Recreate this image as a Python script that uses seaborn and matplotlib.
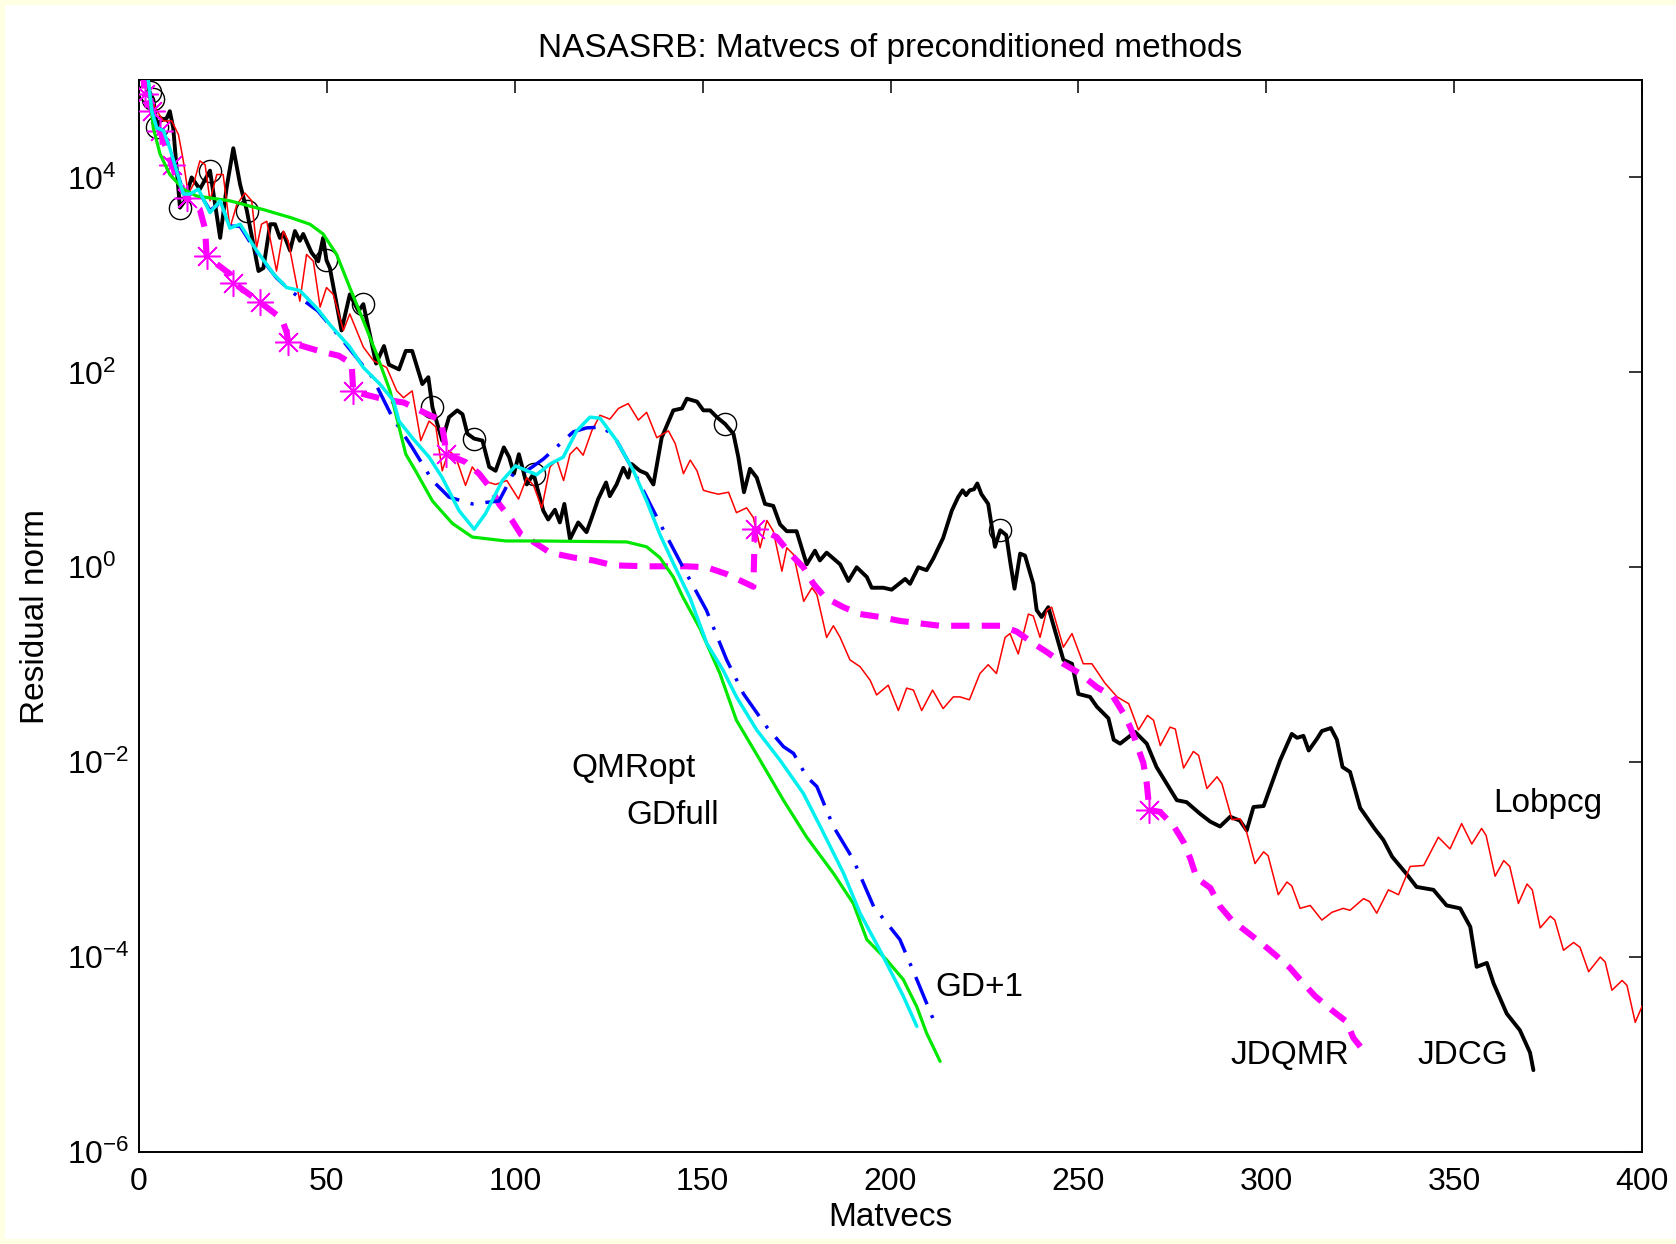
import numpy as np
import pandas as pd
import matplotlib
matplotlib.use("Agg")
import matplotlib.pyplot as plt
import seaborn as sns
from matplotlib.patches import Rectangle

# ---------------------------------------------------------------------------
# Convergence histories: matvec count and log10 of the residual norm
# ---------------------------------------------------------------------------
jdcg_x = [1, 2, 2.8, 3.8, 4.8, 5.6, 7.4, 8.2, 9.1, 10.9, 12.2, 14, 16.2, 18.9, 21.6, 23.3,
          25.1, 26.9, 28.7, 31.8, 33.1, 34.9, 36.2, 37.5, 38.4, 40.2, 41.5, 42.8, 43.7,
          45.9, 47.7, 49, 49.9, 50.8, 53.9, 56.1, 58.4, 59.7, 63.1, 65.2, 66.5, 69.2, 71,
          72.7, 75.4, 77, 78.1, 80.7, 82.5, 84.7, 86.1, 87.4, 89.2, 91.4, 93.2, 94.9, 97.1,
          98.5, 99.8, 101.1, 103.2, 105, 107.6, 108.9, 110.7, 112, 113.2, 114.7, 116.9,
          119.1, 120.5, 122.2, 124.3, 125.3, 127.1, 128.9, 130.2, 131.1, 133.3, 135.1,
          136.9, 139.1, 142.2, 144.5, 145.8, 148.5, 150.2, 152, 153.8, 156, 158.2, 159.5,
          161, 162.6, 164.4, 166.6, 168.8, 170.6, 172.4, 175, 177.7, 179.9, 181.2, 183,
          186.6, 188.8, 191, 193.7, 195, 198.1, 200.3, 203.9, 205.2, 207.4, 209.6, 211.4,
          214, 216.3, 218, 219.2, 220.1, 221.1, 222.2, 223.1, 224.2, 226, 227.8, 229.2,
          230.8, 231.8, 233, 234.5, 235.8, 238, 238.9, 240.2, 242, 246, 248.3, 250, 253.1,
          254.9, 258, 259.4, 261.1, 265.1, 268.2, 270.8, 273.5, 276.2, 278.8, 282.4, 285.1,
          287.7, 290.4, 293, 294.8, 296.6, 299.3, 303.7, 306.8, 308.2, 309.9, 311.3,
          313.5, 314.8, 317.2, 318.8, 320.3, 322.3, 325, 328.8, 331.2, 333.5, 337.4, 340,
          344.5, 348, 351.6, 354.3, 356, 358.7, 360.5, 364, 367.5, 370.2, 371.1]
jdcg_log10 = [5.2, 4.99, 4.88, 4.80, 4.52, 4.58, 4.61, 4.68, 4.51, 3.69, 3.76, 4.00, 3.88,
              4.07, 3.38, 3.89, 4.30, 3.93, 3.66, 3.04, 3.07, 3.52, 3.52, 3.38, 3.43, 3.25,
              3.45, 3.35, 3.42, 3.23, 3.14, 3.38, 3.15, 3.07, 2.43, 2.80, 2.63, 2.70, 2.09,
              2.27, 2.08, 2.03, 2.22, 2.22, 1.88, 1.95, 1.64, 1.30, 1.54, 1.61, 1.57, 1.37,
              1.32, 1.30, 1.03, 0.99, 1.23, 1.13, 0.96, 1.16, 0.85, 0.96, 0.58, 0.49, 0.59,
              0.46, 0.65, 0.29, 0.46, 0.36, 0.51, 0.70, 0.87, 0.73, 0.85, 1.02, 0.92, 1.06,
              0.99, 0.96, 0.85, 1.33, 1.61, 1.63, 1.73, 1.70, 1.61, 1.61, 1.54, 1.47, 1.37,
              1.13, 0.77, 1.01, 0.92, 0.65, 0.63, 0.44, 0.37, 0.37, 0.03, 0.17, 0.07, 0.15,
              0.03, -0.14, 0.00, -0.10, -0.21, -0.21, -0.23, -0.12, -0.17, 0.00, -0.03, 0.09,
              0.30, 0.58, 0.72, 0.79, 0.74, 0.79, 0.80, 0.86, 0.75, 0.65, 0.21, 0.38, 0.33,
              0.07, -0.22, 0.14, 0.12, -0.17, -0.44, -0.51, -0.41, -0.95, -0.99, -1.30, -1.33,
              -1.43, -1.55, -1.77, -1.81, -1.69, -1.81, -2.05, -2.22, -2.39, -2.41, -2.53,
              -2.61, -2.66, -2.56, -2.60, -2.70, -2.46, -2.45, -1.98, -1.71, -1.75, -1.73,
              -1.88, -1.76, -1.68, -1.65, -1.77, -2.05, -2.10, -2.47, -2.68, -2.80, -2.97,
              -3.15, -3.28, -3.31, -3.47, -3.50, -3.69, -4.10, -4.06, -4.27, -4.58, -4.75,
              -4.98, -5.16]
jdcg_restart_x = [2.8, 3.8, 4.8, 10.9, 18.9, 28.7, 49.9, 59.7, 78.1, 89.2, 105, 156, 229.2]

lobpcg_x = [1.5, 2.9, 4.5, 6.5, 8.7, 10.5, 11.8, 13.1, 14.5, 16.2, 17.6, 18.9, 20.7, 22.4,
            24.2, 26, 28.2, 30, 31.3, 32.6, 34, 36.6, 38.4, 39.7, 41.1, 42.8, 44.6, 46.4,
            48.2, 49.9, 51.7, 54.4, 56.1, 59.7, 62.4, 65.9, 68.6, 70.4, 72.7, 75, 77.2, 79,
            80.7, 82.5, 84.3, 86.9, 88.7, 91.4, 94.9, 97.9, 101, 103.2, 105, 107.2, 109.4,
            111.2, 113, 114.7, 116.5, 118.2, 120.5, 122.7, 125.3, 127.6, 130.2, 132.9,
            135.1, 137.8, 140.9, 142.7, 144.9, 146.7, 148.5, 150.2, 152, 154.2, 156.9, 159,
            161.7, 163.5, 165.3, 167.1, 168.8, 171.1, 172.4, 174.2, 176.9, 179.1, 180.4,
            183, 184.8, 186.6, 189.2, 191.9, 194.6, 196.3, 199.4, 202.1, 204.3, 206.1,
            208.3, 211.2, 214, 216.7, 218.5, 221, 223.8, 226, 228.2, 230.5, 231.8, 234,
            236.7, 238, 239.8, 241.6, 242.9, 246, 248.3, 251.3, 253.6, 257.1, 260.3, 263.4,
            266, 268.4, 270, 271.8, 274.4, 275.8, 278, 280.6, 282, 284.2, 286.9, 288.2,
            290.9, 293, 294.8, 297, 299.3, 300.5, 303.2, 305.5, 306.8, 309, 311.7, 314.8,
            317.5, 320.5, 322.3, 325.9, 327.5, 329.4, 332.5, 335.2, 338.3, 341.9, 345.8,
            348.9, 352, 354.7, 357.3, 358.5, 360.9, 363.2, 364.8, 367.1, 369.4, 370.8,
            372.9, 375.6, 376.8, 379.1, 381.8, 383.5, 385.8, 388.9, 390.2, 392, 394.7, 396,
            398.2, 400.4]
lobpcg_log10 = [5.2, 4.85, 4.70, 4.58, 4.58, 4.44, 4.17, 3.83, 3.93, 4.17, 4.13, 3.76, 4.03,
                4.03, 3.48, 3.72, 3.84, 3.76, 3.28, 3.52, 3.55, 3.04, 3.45, 3.35, 3.07, 2.73,
                3.21, 3.14, 2.67, 2.87, 2.80, 2.43, 2.60, 2.26, 2.12, 2.05, 1.81, 1.74, 1.81,
                1.30, 1.50, 1.44, 0.99, 1.20, 1.13, 0.84, 1.03, 0.89, 0.85, 0.89, 0.70, 0.92,
                0.84, 0.61, 1.03, 1.10, 0.89, 1.16, 1.23, 1.15, 1.40, 1.56, 1.52, 1.63, 1.68,
                1.51, 1.59, 1.33, 1.40, 1.27, 0.96, 1.10, 0.99, 0.79, 0.77, 0.75, 0.77, 0.56,
                0.61, 0.51, 0.20, 0.48, 0.37, -0.04, 0.20, 0.13, -0.35, -0.21, -0.28, -0.72,
                -0.60, -0.72, -0.95, -1.02, -1.16, -1.31, -1.21, -1.47, -1.24, -1.26, -1.47,
                -1.26, -1.45, -1.33, -1.33, -1.36, -1.09, -1.00, -1.09, -0.72, -0.68, -0.89,
                -0.48, -0.50, -0.72, -0.44, -0.41, -0.82, -0.68, -0.99, -0.99, -1.19, -1.33,
                -1.40, -1.67, -1.52, -1.57, -1.83, -1.64, -1.66, -2.06, -1.89, -1.93, -2.27,
                -2.15, -2.22, -2.59, -2.58, -2.72, -3.04, -2.92, -2.96, -3.36, -3.23, -3.27,
                -3.50, -3.47, -3.62, -3.54, -3.50, -3.52, -3.40, -3.43, -3.55, -3.31, -3.36,
                -3.07, -3.06, -2.77, -2.89, -2.63, -2.84, -2.68, -2.75, -3.17, -3.01, -3.07,
                -3.45, -3.25, -3.31, -3.70, -3.58, -3.62, -3.93, -3.85, -3.90, -4.15, -4.00,
                -4.05, -4.34, -4.24, -4.29, -4.67, -4.47]

jdqmr_x = [1, 1.6, 3.5, 5.6, 8.7, 12.7, 16.2, 17.6, 18, 24.2, 25.1, 32.2, 38, 39.3, 39.7,
           43.5, 47.9, 53.2, 56.6, 57, 59.4, 65.6, 70.5, 76.3, 80.3, 81.2, 81.8, 86.9, 90.5,
           94, 95.8, 99.3, 101.6, 105.8, 109.4, 115.6, 120.9, 126.2, 135.1, 140.4, 145.7,
           151.1, 156.4, 160.8, 163.5, 163.9, 166.2, 169.7, 173.3, 176.8, 179.5, 182.6,
           187.5, 191.9, 197.2, 202.5, 208.7, 213.2, 219.4, 223.8, 229.2, 233.6, 238, 241.6,
           246, 250.4, 254.9, 259.3, 262, 263.8, 265.1, 267.3, 268.2, 268.9, 271.7, 275.3,
           278, 279.8, 281.5, 285.1, 287.7, 290.8, 294.8, 298.8, 302.8, 306.3, 309.9, 313,
           317.3, 321.3, 323.2, 326.3]
jdqmr_log10 = [5.1, 4.86, 4.68, 4.48, 4.13, 3.79, 3.67, 3.47, 3.19, 3.01, 2.92, 2.72, 2.55,
               2.41, 2.31, 2.27, 2.22, 2.17, 2.09, 1.81, 1.78, 1.72, 1.69, 1.58, 1.51, 1.33,
               1.16, 1.08, 0.96, 0.79, 0.65, 0.48, 0.34, 0.24, 0.15, 0.10, 0.07, 0.02, 0.01,
               0.01, 0.01, 0.00, -0.07, -0.15, -0.20, 0.39, 0.38, 0.31, 0.14, 0.00, -0.17,
               -0.31, -0.41, -0.48, -0.51, -0.55, -0.58, -0.60, -0.60, -0.60, -0.60, -0.66,
               -0.78, -0.87, -0.99, -1.09, -1.23, -1.33, -1.50, -1.64, -1.77, -2.01, -2.22,
               -2.49, -2.51, -2.65, -2.82, -2.99, -3.19, -3.29, -3.48, -3.62, -3.74, -3.86,
               -3.99, -4.11, -4.27, -4.40, -4.54, -4.66, -4.83, -4.98]
jdqmr_restart_x = [1.6, 3.5, 5.6, 8.7, 12.7, 18, 25.1, 32.2, 39.7, 57, 81.8, 163.9, 268.9]

gd1_x = [1.5, 2.5, 3.4, 4.7, 6.5, 8.2, 10, 11.8, 15.8, 18.9, 21.6, 24.2, 26.9, 31.3, 36.6,
         40.2, 47.6, 55, 62.1, 67.4, 72.7, 78.1, 82.5, 88.7, 95.8, 99.6, 103.2, 107.6,
         115.6, 119.1, 123.6, 127.1, 131.6, 136, 139.6, 144.5, 151, 156.4, 160.9, 167.1,
         171.5, 174.2, 177.7, 180.4, 184.8, 190.1, 195.5, 202.5, 207, 211.4]
gd1_log10 = [5.3, 4.99, 4.68, 4.51, 4.48, 4.30, 4.07, 3.85, 3.86, 3.66, 3.74, 3.50, 3.50,
             3.23, 2.97, 2.84, 2.63, 2.29, 1.95, 1.54, 1.23, 0.89, 0.72, 0.65, 0.68, 0.96,
             0.99, 1.11, 1.39, 1.43, 1.44, 1.30, 0.99, 0.65, 0.38, 0.02, -0.44, -0.95, -1.30,
             -1.64, -1.84, -1.91, -2.15, -2.25, -2.66, -3.00, -3.48, -3.82, -4.23, -4.64]

gdfull_x = [1.5, 2.5, 3.4, 4.7, 6.5, 8.2, 10, 11.8, 13.6, 15.8, 18.9, 21.6, 24.2, 26.9,
            31.3, 35.8, 39.3, 42.8, 47.3, 50.8, 56.1, 59.7, 64.1, 67.7, 69.2, 72.7, 77.2,
            80.7, 85.2, 89.2, 92.2, 96.7, 100.2, 105.8, 109.4, 112.9, 116.5, 120, 122.7,
            127.1, 131.6, 135.1, 138.6, 142.2, 146.6, 151.1, 155.5, 159, 164.4, 170.6,
            176.8, 181.3, 187.5, 191.9, 197.2, 203.4, 207]
gdfull_log10 = [5.3, 4.99, 4.68, 4.51, 4.48, 4.30, 4.07, 3.83, 3.83, 3.88, 3.64, 3.76, 3.48,
                3.52, 3.25, 3.01, 2.87, 2.84, 2.66, 2.49, 2.26, 2.05, 1.88, 1.71, 1.50, 1.33,
                1.13, 0.92, 0.58, 0.39, 0.55, 0.89, 1.04, 0.95, 1.06, 1.13, 1.40, 1.54, 1.53,
                1.30, 0.99, 0.68, 0.34, 0.04, -0.31, -0.78, -1.06, -1.33, -1.67, -1.98, -2.32,
                -2.66, -3.14, -3.55, -3.93, -4.40, -4.71]

qmropt_x = [1.5, 2.5, 3.8, 5.6, 8.2, 11.8, 15.3, 24.2, 33.1, 40.2, 45.5, 49, 52.6, 56.1,
            59.7, 63.2, 66.8, 69.2, 71, 73.6, 78.1, 83.4, 88.7, 97.6, 106.5, 129.8, 135.1,
            138.6, 142.2, 144.8, 149.3, 154.6, 159, 165.3, 171.5, 177.7, 184.8, 190.1,
            193.7, 199, 203.4, 207, 209.6, 213.2]
qmropt_log10 = [5.3, 4.99, 4.51, 4.24, 4.03, 3.88, 3.81, 3.76, 3.67, 3.59, 3.52, 3.42, 3.21,
                2.87, 2.53, 2.19, 1.81, 1.44, 1.16, 0.99, 0.68, 0.45, 0.31, 0.27, 0.27, 0.26,
                0.21, 0.10, -0.10, -0.31, -0.63, -1.09, -1.57, -1.98, -2.39, -2.77, -3.14,
                -3.45, -3.82, -4.03, -4.23, -4.51, -4.78, -5.07]

# method names written next to their curves (left edge and baseline position)
curve_names = ["QMRopt", "GDfull", "GD+1", "JDQMR", "JDCG", "Lobpcg"]
name_x = [115, 129.8, 212, 290.4, 340.2, 360.3]
name_log10 = [-2.15, -2.63, -4.40, -5.10, -5.10, -2.51]

yticks = [1e-6, 1e-4, 1e-2, 1e0, 1e2, 1e4]
ytick_labels = [r"$10^{-6}$", r"$10^{-4}$", r"$10^{-2}$", r"$10^{0}$", r"$10^{2}$", r"$10^{4}$"]
xticks = [0, 50, 100, 150, 200, 250, 300, 350, 400]
xtick_labels = ["0", "50", "100", "150", "200", "250", "300", "350", "400"]


def history(x, log10_res):
    return pd.DataFrame({"Matvecs": np.asarray(x, float),
                         "Residual norm": 10.0 ** np.asarray(log10_res, float)})


def marker_indices(x, marks):
    x = np.asarray(x, float)
    return [int(np.argmin(np.abs(x - m))) for m in marks]


sns.set_theme(style="white")
plt.rcParams.update({
    "font.family": ["Liberation Sans", "DejaVu Sans"],
    "mathtext.fontset": "custom",
    "mathtext.rm": "Liberation Sans",
    "mathtext.it": "Liberation Sans:italic",
    "mathtext.bf": "Liberation Sans:bold",
    "text.color": "black",
    "axes.labelcolor": "black",
    "xtick.color": "black",
    "ytick.color": "black",
    "axes.edgecolor": "black",
    "axes.linewidth": 1.4,
})

W, H = 1676, 1244
fig = plt.figure(figsize=(W / 100, H / 100), dpi=100, facecolor="#FFFFE4")
fig.patches.append(Rectangle((5 / W, 5 / H), 1 - 5 / W, (1239 - 5) / H,
                             transform=fig.transFigure, facecolor="white",
                             edgecolor="none", zorder=-10))

ax = fig.add_axes([139 / W, (H - 1152) / H, 1503 / W, 1072 / H])
ax.set_facecolor("white")
ax.set_yscale("log")

common = dict(x="Matvecs", y="Residual norm", ax=ax, estimator=None, sort=False,
              legend=False)

# JDCG: thick black with circles at outer restarts
sns.lineplot(data=history(jdcg_x, jdcg_log10), color="black", linewidth=2.8,
             marker="o", markevery=marker_indices(jdcg_x, jdcg_restart_x),
             markersize=16, markerfacecolor="none", markeredgecolor="black",
             markeredgewidth=1.0, zorder=3, **common)

# LOBPCG: thin red
sns.lineplot(data=history(lobpcg_x, lobpcg_log10), color="#FF0000", linewidth=1.1,
             zorder=4, **common)

# JDQMR: heavy magenta dashes with asterisks at restarts
sns.lineplot(data=history(jdqmr_x, jdqmr_log10), color="#FF00FF", linewidth=4.4,
             linestyle=(0, (3.0, 2.0)), marker=(8, 2, 0),
             markevery=marker_indices(jdqmr_x, jdqmr_restart_x), markersize=19,
             markeredgecolor="#FF00FF", markeredgewidth=1.1, zorder=5, **common)

# GD+1: blue dash-dot
sns.lineplot(data=history(gd1_x, gd1_log10), color="#0000FF", linewidth=2.5,
             linestyle=(0, (8.5, 3.4, 0.9, 3.4)), zorder=6, **common)

# QMRopt: green solid
sns.lineplot(data=history(qmropt_x, qmropt_log10), color="#00E800", linewidth=2.3,
             zorder=7, **common)

# GDfull: cyan solid
sns.lineplot(data=history(gdfull_x, gdfull_log10), color="#00F0F0", linewidth=2.5,
             zorder=8, **common)

for name, nx, ny in zip(curve_names, name_x, name_log10):
    ax.text(nx, 10.0 ** ny, name, fontsize=24, ha="left", va="baseline", zorder=10)

ax.set_xlim(0, 400)
ax.set_ylim(1e-6, 1e5)
ax.set_xticks(xticks)
ax.set_xticklabels(xtick_labels)
ax.set_yticks(yticks)
ax.set_yticklabels(ytick_labels)
ax.minorticks_off()
ax.tick_params(axis="both", which="major", direction="in", length=9.5, width=1.1,
               top=True, right=True, labelsize=23)
ax.tick_params(axis="x", pad=11)
ax.tick_params(axis="y", pad=52)
for lbl in ax.get_yticklabels():
    lbl.set_horizontalalignment("left")
for s in ax.spines.values():
    s.set_visible(True)
    s.set_linewidth(1.4)
    s.set_color("black")

ax.set_title("NASASRB: Matvecs of preconditioned methods", fontsize=24, pad=16.5)
ax.set_xlabel("Matvecs", fontsize=24, va="baseline")
ax.xaxis.set_label_coords(0.5, (1152 - 1226) / 1072)
ax.set_ylabel("Residual norm", fontsize=24, va="baseline")
ax.yaxis.set_label_coords((44 - 139) / 1503, 0.5)

fig.savefig("out.png", dpi=100, facecolor=fig.get_facecolor())
